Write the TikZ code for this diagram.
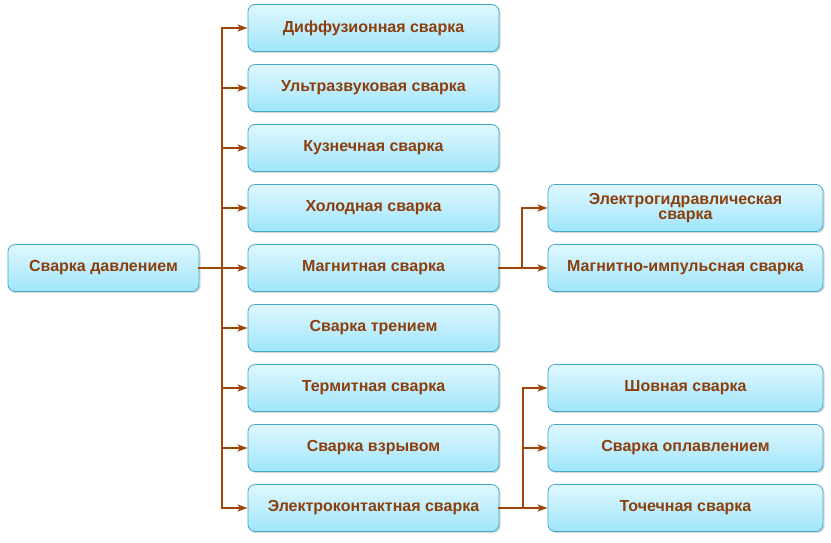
\documentclass[tikz,border=0pt]{standalone}
\usepackage{fontspec}
\setmainfont{Liberation Sans}
\usetikzlibrary{arrows.meta,shadows}
\definecolor{boxline}{HTML}{45A6C6}
\definecolor{boxtop}{HTML}{E0F8FE}
\definecolor{boxbot}{HTML}{9FE5FB}
\definecolor{brn}{HTML}{A0460A}
\definecolor{txt}{HTML}{8C3F0C}
\tikzset{
  kind/.style={draw=boxline, line width=0.8pt, rounded corners=7pt, top color=boxtop, bottom color=boxbot,
    minimum height=47pt, inner sep=2pt, align=center, text=txt, font=\fontsize{16}{15}\selectfont\bfseries,
    drop shadow={opacity=0.3, shadow xshift=1.5pt, shadow yshift=-1.5pt}},
  link/.style={draw=brn, line width=2.2pt, line cap=rect},
  tip/.style={draw=brn, line width=2.2pt, -{Stealth[length=10pt,width=7pt,inset=2.5pt]}}
}
\begin{document}
\begin{tikzpicture}[x=1pt,y=-1pt]
\useasboundingbox (0,0) rectangle (831,542);
\node[kind, minimum width=191pt] (press) at (103.5,268) {Сварка давлением};
\foreach \nm/\yy/\lb in {diff/28/Диффузионная сварка, ultra/88/Ультразвуковая сварка,
    forge/148/Кузнечная сварка, cold/208/Холодная сварка, magn/268/Магнитная сварка,
    frict/328/Сварка трением, therm/388/Термитная сварка, expl/448/Сварка взрывом,
    contact/508/Электроконтактная сварка}
  \node[kind, minimum width=251pt] (\nm) at (373.5,\yy) {\lb};
\foreach \nm/\yy/\lb in {hydro/208/Электрогидравлическая\\сварка, pulse/268/Магнитно-импульсная сварка,
    seam/388/Шовная сварка, flash/448/Сварка оплавлением, spot/508/Точечная сварка}
  \node[kind, minimum width=275pt] (\nm) at (685.5,\yy) {\lb};
% main trunk
\coordinate (trunk) at (222,268);
\draw[link] (press.east) -- (trunk);
\draw[link] (trunk |- diff) -- (trunk |- contact);
\foreach \nm in {diff,ultra,forge,cold,magn,frict,therm,expl,contact}
  \draw[tip] (trunk |- \nm) -- (\nm.west);
% magnetic branch
\coordinate (mfork) at (522,268);
\draw[link] (magn.east) -- (mfork);
\draw[link] (mfork |- hydro) -- (mfork |- pulse);
\foreach \nm in {hydro,pulse}
  \draw[tip] (mfork |- \nm) -- (\nm.west);
% contact branch
\coordinate (efork) at (523,508);
\draw[link] (contact.east) -- (efork);
\draw[link] (efork |- seam) -- (efork |- spot);
\foreach \nm in {seam,flash,spot}
  \draw[tip] (efork |- \nm) -- (\nm.west);
\end{tikzpicture}
\end{document}
